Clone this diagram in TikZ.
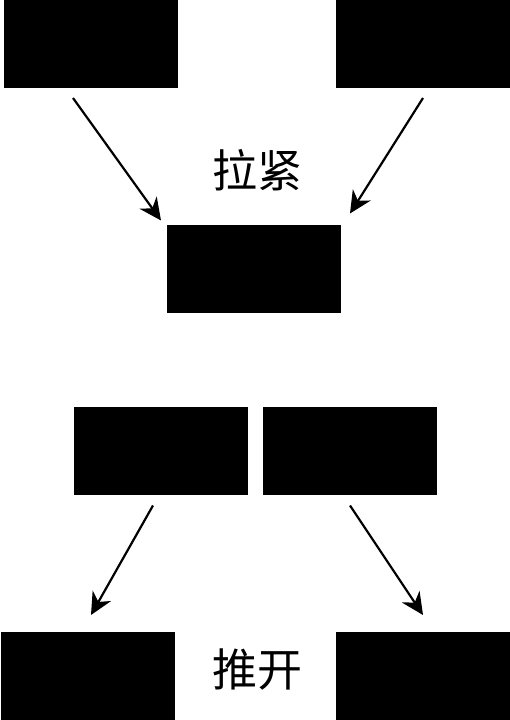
\documentclass[tikz,border=0pt]{standalone}
\usepackage{fontspec}
\usepackage{tikz}
\usetikzlibrary{arrows.meta, positioning, calc}
\newfontfamily\cjk{Noto Sans CJK SC}

\begin{document}
\begin{tikzpicture}[
  x=1pt, y=-1pt,
  blk/.style={fill=black, inner sep=0pt, outer sep=0pt, minimum width=174pt, minimum height=88pt},
  lbl/.style={font=\cjk\fontsize{45}{45}\selectfont},
  arr/.style={-{Stealth[length=22pt, width=21pt, inset=7pt]}, line width=2.2pt}
]
  \useasboundingbox (0,0) rectangle (510,720);

  % pulling together
  \node[blk] (tl) at (91,44) {};
  \node[blk] (tr) at (423,44) {};
  \node[blk] (mid) at (254,268.5) {};
  \node[lbl] (pull) at (257.5,170) {拉紧};

  \draw[arr] ($(tl.south)+(-18,10)$) -- ($(mid.north west)+(-6,-4)$);
  \draw[arr] ($(tr.south)+(0,10)$) -- ($(mid.north east)+(9,-11)$);

  % pushing apart
  \node[blk] (bl) at (160.5,450.5) {};
  \node[blk] (br) at (350,450.5) {};
  \node[blk] (ol) at (87.5,676) {};
  \node[blk] (or) at (422.5,676) {};
  \node[lbl] (push) at (257,670) {推开};

  \draw[arr] ($(bl.south)+(-7.5,11)$) -- ($(ol.north)+(3.5,-17)$);
  \draw[arr] ($(br.south)+(0,11)$) -- ($(or.north)+(0.5,-17)$);
\end{tikzpicture}
\end{document}
